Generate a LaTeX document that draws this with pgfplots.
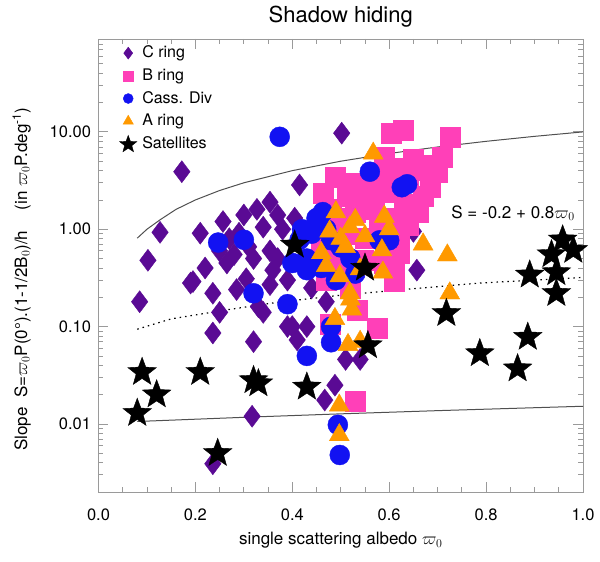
\documentclass[border=0pt]{standalone}
\usepackage{fontspec}
\setmainfont{TeX Gyre Heros}
\usepackage{pgfplots}
\pgfplotsset{compat=1.18}

\definecolor{cring}{HTML}{5A0A94}
\definecolor{bring}{HTML}{FF40B8}
\definecolor{cassdiv}{HTML}{1212F2}
\definecolor{aring}{HTML}{FF9900}
\definecolor{framegray}{HTML}{9A9A9A}
\definecolor{curvegray}{HTML}{505050}

% filled five-pointed star
\pgfdeclareplotmark{fstar}{%
  \pgfpathmoveto{\pgfpointpolar{90}{\pgfplotmarksize}}%
  \pgfpathlineto{\pgfpointpolar{126}{0.42\pgfplotmarksize}}%
  \pgfpathlineto{\pgfpointpolar{162}{\pgfplotmarksize}}%
  \pgfpathlineto{\pgfpointpolar{198}{0.42\pgfplotmarksize}}%
  \pgfpathlineto{\pgfpointpolar{234}{\pgfplotmarksize}}%
  \pgfpathlineto{\pgfpointpolar{270}{0.42\pgfplotmarksize}}%
  \pgfpathlineto{\pgfpointpolar{306}{\pgfplotmarksize}}%
  \pgfpathlineto{\pgfpointpolar{342}{0.42\pgfplotmarksize}}%
  \pgfpathlineto{\pgfpointpolar{18}{\pgfplotmarksize}}%
  \pgfpathlineto{\pgfpointpolar{54}{0.42\pgfplotmarksize}}%
  \pgfpathclose
  \pgfusepathqfillstroke}

\begin{document}
\begin{tikzpicture}
\begin{axis}[name=ax,
  scale only axis, width=484.5pt, height=453pt,
  xmin=0, xmax=1, ymode=log, ymin=0.002, ymax=90,
  xtick={0,0.2,0.4,0.6,0.8,1}, xticklabels={0.0,0.2,0.4,0.6,0.8,1.0},
  minor x tick num=3,
  ytick={0.01,0.1,1,10}, yticklabels={0.01,0.10,1.00,10.00},
  minor ytick={0.002,0.003,0.004,0.005,0.006,0.007,0.008,0.009,
    0.02,0.03,0.04,0.05,0.06,0.07,0.08,0.09,0.2,0.3,0.4,0.5,0.6,0.7,0.8,0.9,
    2,3,4,5,6,7,8,9,20,30,40,50,60,70,80},
  tick align=inside, major tick length=10pt, minor tick length=5pt,
  axis line style={framegray, line width=0.8pt},
  tick style={framegray, line width=0.8pt},
  tick label style={font=\fontsize{16.5}{18}\selectfont},
  xticklabel style={yshift=-13pt},
  yticklabel style={xshift=-4pt},
  title={Shadow hiding},
  title style={font=\fontsize{22}{24}\selectfont, yshift=2pt},
  xlabel={single scattering albedo $\varpi_0$},
  xlabel style={yshift=-5pt},
  ylabel={Slope\ \ S=$\varpi_0$P(0°).(1-1/2B$_0$)/h\hspace{1.2em}(in $\varpi_0$P.deg\textsuperscript{-1})},
  label style={font=\fontsize{17}{19}\selectfont},
  ylabel style={at={(ticklabel cs:0.47,12pt)}},
  legend style={at={(0.0433,0.988)}, anchor=north west, draw=none, fill=none,
    font=\fontsize{16}{18}\selectfont, row sep=5.7pt, column sep=4.5pt, inner sep=0pt,
    nodes={inner sep=1pt, text depth=3pt, text height=12pt}},
  legend cell align=left,
]
% C ring
\addplot[only marks, mark=diamond*, mark size=11pt, color=cring,
  legend image post style={mark size=6pt}] coordinates {
(0.172,3.9)(0.502,9.7)(0.127,0.93)(0.102,0.48)(0.085,0.18)(0.21,0.91)
(0.257,1.2)(0.22,0.40)(0.195,0.29)(0.265,0.45)(0.236,0.22)(0.29,0.91)
(0.327,1.6)(0.354,1.9)(0.34,1.05)(0.31,0.66)(0.354,0.6)(0.305,0.31)
(0.354,0.27)(0.19,0.28)(0.285,0.24)(0.25,0.14)(0.236,0.086)(0.32,0.07)
(0.34,0.14)(0.33,0.16)(0.39,0.1)(0.317,0.012)(0.236,0.0039)(0.415,2.85)
(0.523,2.7)(0.405,1.3)(0.38,1.0)(0.65,0.95)(0.657,0.38)(0.40,0.1)
(0.43,0.1)(0.41,0.073)(0.51,0.046)(0.54,0.046)(0.488,0.025)(0.467,0.0176)
(0.39,0.3)(0.37,1.4)(0.3,1.4)(0.27,0.8)(0.37,0.5)(0.47,0.18)
(0.44,0.25)(0.52,0.23)(0.5,0.8)(0.36,0.38)(0.28,0.55)(0.25,0.6)(0.32,0.5)
};
% B ring
\addplot[only marks, mark=square*, mark size=10pt, color=bring,
  legend image post style={mark size=5pt}] coordinates {
(0.605,9.7)(0.628,10.5)(0.725,8.9)
(0.65,5.2)(0.68,4.5)(0.70,3.9)(0.62,4.2)(0.58,3.5)(0.60,3.0)(0.64,3.3)
(0.685,2.7)(0.67,2.2)(0.63,1.8)(0.66,1.5)(0.6,2.4)(0.56,2.5)(0.546,1.9)
(0.513,2.2)(0.488,3.45)(0.463,2.35)(0.48,1.6)(0.5,1.3)(0.53,1.5)(0.57,1.6)
(0.6,1.3)(0.64,1.1)(0.62,0.8)(0.58,1.0)(0.55,0.8)(0.51,0.9)(0.47,0.8)
(0.46,0.6)(0.5,0.55)(0.546,0.48)(0.62,0.57)(0.61,0.36)(0.59,0.45)(0.5,0.38)
(0.47,0.3)(0.52,0.25)(0.61,0.29)(0.533,0.148)(0.478,0.105)(0.575,0.097)
(0.53,0.017)(0.66,4.0)(0.71,5.5)(0.59,5.5)(0.55,3.0)(0.52,3.0)
};
% Cassini division
\addplot[only marks, mark=*, mark size=10pt, color=cassdiv,
  legend image post style={mark size=5pt}] coordinates {
(0.374,8.9)(0.56,3.9)(0.626,2.7)(0.637,2.9)(0.463,1.5)(0.45,1.3)
(0.43,0.5)(0.48,0.77)(0.58,0.77)(0.6,0.77)(0.415,0.78)(0.42,1.0)
(0.44,0.9)(0.47,1.0)(0.5,0.65)(0.52,0.5)(0.46,0.4)(0.43,0.38)
(0.40,0.45)(0.49,0.3)(0.53,0.35)(0.247,0.73)(0.30,0.78)(0.32,0.22)
(0.39,0.17)(0.43,0.05)(0.48,0.069)(0.48,0.1)(0.494,0.0098)(0.498,0.0048)
};
% A ring
\addplot[only marks, mark=triangle*, mark size=11.5pt, color=aring,
  legend image post style={mark size=6pt}] coordinates {
(0.567,6.0)(0.49,1.5)(0.53,1.25)(0.59,1.35)(0.477,0.95)(0.519,1.05)
(0.46,0.57)(0.51,0.66)(0.585,0.61)(0.67,0.7)(0.72,0.54)(0.498,0.33)
(0.54,0.39)(0.587,0.36)(0.519,0.22)(0.725,0.22)(0.497,0.0155)(0.497,0.0077)
(0.515,0.065)(0.54,0.07)(0.488,0.12)(0.523,0.15)(0.52,0.19)(0.55,0.85)
(0.5,0.8)(0.6,1.0)(0.47,0.42)
};
% Satellites
\addplot[only marks, mark=fstar, mark size=15pt, color=black,
  legend image post style={mark size=9pt}] coordinates {
(0.08,0.0129)(0.09,0.034)(0.12,0.020)(0.21,0.034)(0.246,0.0050)(0.32,0.028)
(0.33,0.026)(0.405,0.69)(0.43,0.024)(0.55,0.40)(0.556,0.064)(0.718,0.137)
(0.787,0.053)(0.865,0.037)(0.886,0.078)(0.89,0.34)(0.935,0.55)(0.945,0.36)
(0.945,0.22)(0.958,0.78)(0.98,0.61)
};
% model curves
\addplot[curvegray, line width=1pt, forget plot] coordinates {
(0.08,0.81)(0.1,1.0)(0.127,1.25)(0.16,1.6)(0.2,2.0)(0.25,2.5)(0.3,3.0)
(0.4,4.0)(0.5,5.0)(0.6,6.0)(0.7,7.0)(0.8,8.0)(0.9,9.0)(1.0,10.0)};
\addplot[black, line width=1.2pt, dash pattern=on 1.5pt off 4pt, forget plot] coordinates {
(0.08,0.094)(0.15,0.12)(0.27,0.15)(0.374,0.179)(0.5,0.21)(0.65,0.245)(0.786,0.28)(1,0.32)};
\addplot[curvegray, line width=1pt, forget plot] coordinates {
(0.08,0.0106)(0.3,0.0117)(0.5,0.0127)(0.7,0.0137)(1,0.0152)};
\node[anchor=west, font=\fontsize{17}{19}\selectfont, inner sep=0pt] at (axis cs:0.728,1.47) {S = -0.2 + 0.8$\varpi_0$};
\legend{C ring, B ring, Cass. Div, A ring, Satellites}
\end{axis}
\pgfresetboundingbox
\path ([xshift=-98.5pt,yshift=-70pt]ax.south west) rectangle ([xshift=17pt,yshift=39pt]ax.north east);
\end{tikzpicture}
\end{document}
